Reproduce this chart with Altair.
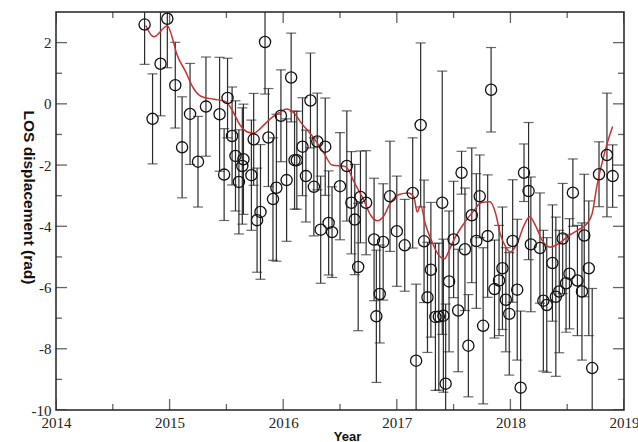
import altair as alt
import pandas as pd

# ---- data ----
years = [2014.78, 2014.85, 2014.92, 2014.98, 2015.05, 2015.11, 2015.18, 2015.25, 2015.32, 2015.44,
         2015.48, 2015.51, 2015.55, 2015.58, 2015.61, 2015.64, 2015.65, 2015.72, 2015.74, 2015.77,
         2015.80, 2015.84, 2015.87, 2015.91, 2015.94, 2015.98, 2016.03, 2016.07, 2016.10, 2016.12,
         2016.17, 2016.20, 2016.24, 2016.27, 2016.30, 2016.33, 2016.37, 2016.40, 2016.43, 2016.50,
         2016.56, 2016.60, 2016.63, 2016.66, 2016.68, 2016.73, 2016.80, 2016.82, 2016.85, 2016.88,
         2016.94, 2017.00, 2017.07, 2017.14, 2017.17, 2017.21, 2017.24, 2017.27, 2017.30, 2017.34,
         2017.37, 2017.40, 2017.41, 2017.43, 2017.46, 2017.50, 2017.54, 2017.57, 2017.60, 2017.63,
         2017.66, 2017.70, 2017.73, 2017.76, 2017.80, 2017.83, 2017.86, 2017.90, 2017.93, 2017.96,
         2017.99, 2018.02, 2018.06, 2018.09, 2018.12, 2018.16, 2018.18, 2018.26, 2018.29, 2018.32,
         2018.37, 2018.40, 2018.43, 2018.46, 2018.49, 2018.52, 2018.55, 2018.59, 2018.63, 2018.65,
         2018.69, 2018.72, 2018.78, 2018.85, 2018.90]
disp = [2.59, -0.49, 1.31, 2.78, 0.61, -1.42, -0.33, -1.89, -0.09, -0.34,
        -2.31, 0.19, -1.05, -1.70, -2.55, -2.03, -1.81, -2.33, -1.16, -3.80,
        -3.53, 2.02, -1.10, -3.11, -2.74, -0.39, -2.49, 0.86, -1.84, -1.84,
        -1.40, -2.36, 0.11, -2.71, -1.23, -4.11, -1.40, -3.89, -4.19, -2.69,
        -2.03, -3.23, -3.78, -5.33, -3.04, -3.23, -4.43, -6.94, -6.21, -4.51,
        -3.02, -4.16, -4.62, -2.91, -8.39, -0.69, -4.49, -6.32, -5.42, -6.96,
        -6.95, -3.23, -6.92, -9.14, -5.80, -4.43, -6.75, -2.25, -4.75, -7.90,
        -3.64, -4.48, -3.02, -7.25, -4.32, 0.46, -6.05, -5.77, -5.37, -6.40,
        -6.86, -4.48, -6.07, -9.27, -2.25, -2.85, -4.59, -4.71, -6.43, -6.57,
        -5.20, -6.30, -6.13, -4.40, -5.86, -5.55, -2.90, -5.77, -6.13, -4.30,
        -5.37, -8.63, -2.30, -1.67, -2.36]
err = [1.30, 1.47, 1.70, 1.60, 1.40, 1.65, 1.65, 1.48, 1.62, 1.86,
       1.50, 1.30, 1.60, 1.80, 1.70, 1.90, 1.80, 1.80, 1.50, 1.70,
       2.20, 1.70, 1.60, 2.00, 2.40, 1.50, 2.00, 1.45, 1.60, 1.60,
       1.60, 1.50, 1.55, 1.60, 1.58, 1.75, 1.59, 1.70, 1.48, 1.75,
       1.80, 1.67, 1.80, 2.08, 1.50, 1.70, 2.00, 2.16, 1.60, 1.90,
       1.80, 1.80, 1.50, 1.80, 2.50, 2.68, 2.00, 1.80, 2.20, 2.40,
       2.40, 4.30, 2.50, 2.60, 2.30, 1.90, 2.00, 0.70, 2.00, 1.67,
       2.20, 2.20, 1.35, 2.55, 2.00, 1.38, 1.60, 1.80, 2.00, 1.70,
       2.00, 2.00, 2.30, 2.50, 0.94, 2.24, 2.20, 1.80, 2.30, 2.20,
       1.90, 2.60, 2.00, 1.80, 1.60, 1.80, 1.10, 1.80, 2.24, 2.00,
       2.20, 2.60, 1.06, 2.02, 1.02]

line_years = [2014.79, 2014.86, 2014.98, 2015.02, 2015.06, 2015.14, 2015.21, 2015.28, 2015.39, 2015.49,
              2015.55, 2015.62, 2015.68, 2015.74, 2015.80, 2015.86, 2015.91, 2015.97, 2016.03, 2016.09,
              2016.16, 2016.27, 2016.36, 2016.43, 2016.55, 2016.63, 2016.71, 2016.77, 2016.83, 2016.88,
              2016.94, 2017.02, 2017.10, 2017.15, 2017.18, 2017.21, 2017.25, 2017.31, 2017.37, 2017.42,
              2017.46, 2017.50, 2017.59, 2017.68, 2017.74, 2017.82, 2017.87, 2017.91, 2017.96, 2018.00,
              2018.06, 2018.12, 2018.17, 2018.22, 2018.28, 2018.35, 2018.43, 2018.50, 2018.59, 2018.67,
              2018.72, 2018.76, 2018.82, 2018.87, 2018.90]
line_vals = [2.56, 2.19, 2.54, 2.21, 1.66, 1.06, 0.51, 0.24, 0.15, 0.08,
             -0.20, -0.69, -0.91, -0.96, -0.80, -0.58, -0.42, -0.28, -0.17, -0.28,
             -0.63, -1.12, -1.62, -2.00, -2.05, -2.60, -3.15, -3.64, -3.82, -3.69,
             -3.26, -2.96, -2.91, -3.04, -3.53, -3.31, -3.91, -4.51, -4.95, -5.06,
             -4.79, -4.46, -3.91, -3.48, -3.23, -3.20, -3.58, -4.24, -4.68, -4.84,
             -4.55, -3.97, -3.69, -3.97, -4.46, -4.68, -4.55, -4.35, -4.13, -3.93,
             -3.58, -2.71, -1.73, -1.07, -0.74]

x_major = [2014, 2015, 2016, 2017, 2018, 2019]
x_minor = [2014.5, 2015.5, 2016.5, 2017.5, 2018.5]
y_major = [-10, -8, -6, -4, -2, 0, 2]
y_minor = [-9, -7, -5, -3, -1, 1]
x_domain = [2014, 2019]
y_domain = [-10, 3]

pts = pd.DataFrame({"year": years, "disp": disp, "err": err})
pts["lo"] = pts["disp"] - pts["err"]
pts["hi"] = pts["disp"] + pts["err"]
line_df = pd.DataFrame({"year": line_years, "disp": line_vals})

serif = "Liberation Serif"
sans = "Liberation Sans"

xscale = alt.Scale(domain=x_domain, nice=False, zero=False)
yscale = alt.Scale(domain=y_domain, nice=False, zero=False)

xaxis = alt.Axis(values=x_major, labelExpr="'' + datum.value", ticks=False, domain=False, grid=False,
                 labelFont=serif, labelFontSize=15, labelColor="#222", labelPadding=5,
                 labelOverlap=False, labelBound=False, labelFlush=False,
                 title="Year", titleFont=sans, titleFontWeight="bold", titleFontSize=13,
                 titleColor="#111", titleX=291, titleY=30, titleBaseline="alphabetic")
yaxis = alt.Axis(values=y_major, labelExpr="'' + datum.value", ticks=False, domain=False, grid=False,
                 labelFont=serif, labelFontSize=15, labelColor="#222", labelPadding=5,
                 labelOverlap=False, labelBound=False, labelFlush=False,
                 title="LOS displacement (rad)", titleFont=sans, titleFontWeight="bold",
                 titleFontSize=15.5, titleColor="#111", titleAngle=90, titleX=-33, titleY=185,
                 titleBaseline="alphabetic", titleAlign="center")

base = alt.Chart(pts)

bars = base.mark_rule(color="#2b2b2b", strokeWidth=1.2, clip=True).encode(
    x=alt.X("year:Q", scale=xscale, axis=xaxis),
    y=alt.Y("lo:Q", scale=yscale, axis=yaxis),
    y2="hi:Q",
)
cap_lo = base.mark_tick(color="#2b2b2b", orient="horizontal", size=10, thickness=1.2, clip=True).encode(
    x="year:Q", y="lo:Q")
cap_hi = base.mark_tick(color="#2b2b2b", orient="horizontal", size=10, thickness=1.2, clip=True).encode(
    x="year:Q", y="hi:Q")
circles = base.mark_point(shape="circle", size=125, filled=False, color="#111", strokeWidth=1.3,
                          opacity=1, clip=True).encode(x="year:Q", y="disp:Q")
line = alt.Chart(line_df).mark_line(color="#c83232", strokeWidth=1.5, interpolate="monotone",
                                    clip=True).encode(x="year:Q", y="disp:Q")

xmaj = pd.DataFrame({"v": x_major})
xmin = pd.DataFrame({"v": x_minor})
ymaj = pd.DataFrame({"v": y_major})
ymin = pd.DataFrame({"v": y_minor})

def xt(df, size, ypos):
    return alt.Chart(df).mark_tick(orient="vertical", size=size, thickness=1.3, color="#222", clip=True).encode(
        x="v:Q", y=alt.datum(ypos))

def yt(df, size, xpos):
    return alt.Chart(df).mark_tick(orient="horizontal", size=size, thickness=1.3, color="#222", clip=True).encode(
        y="v:Q", x=alt.datum(xpos))

ticks = [xt(xmaj, 22, y_domain[0]), xt(xmin, 12, y_domain[0]),
         xt(xmaj, 22, y_domain[1]), xt(xmin, 12, y_domain[1]),
         yt(ymaj, 22, x_domain[0]), yt(ymin, 12, x_domain[0]),
         yt(ymaj, 22, x_domain[1]), yt(ymin, 12, x_domain[1])]

chart = alt.layer(bars, cap_lo, cap_hi, line, circles, *ticks).properties(
    width=568, height=398,
    autosize=alt.AutoSizeParams(type="none"),
    padding={"left": 56, "top": 12, "right": 14, "bottom": 32},
    background="white",
).configure_view(stroke="#222", strokeWidth=1.5)

chart.save("out.html", embed_options={"renderer": "svg", "actions": False})
